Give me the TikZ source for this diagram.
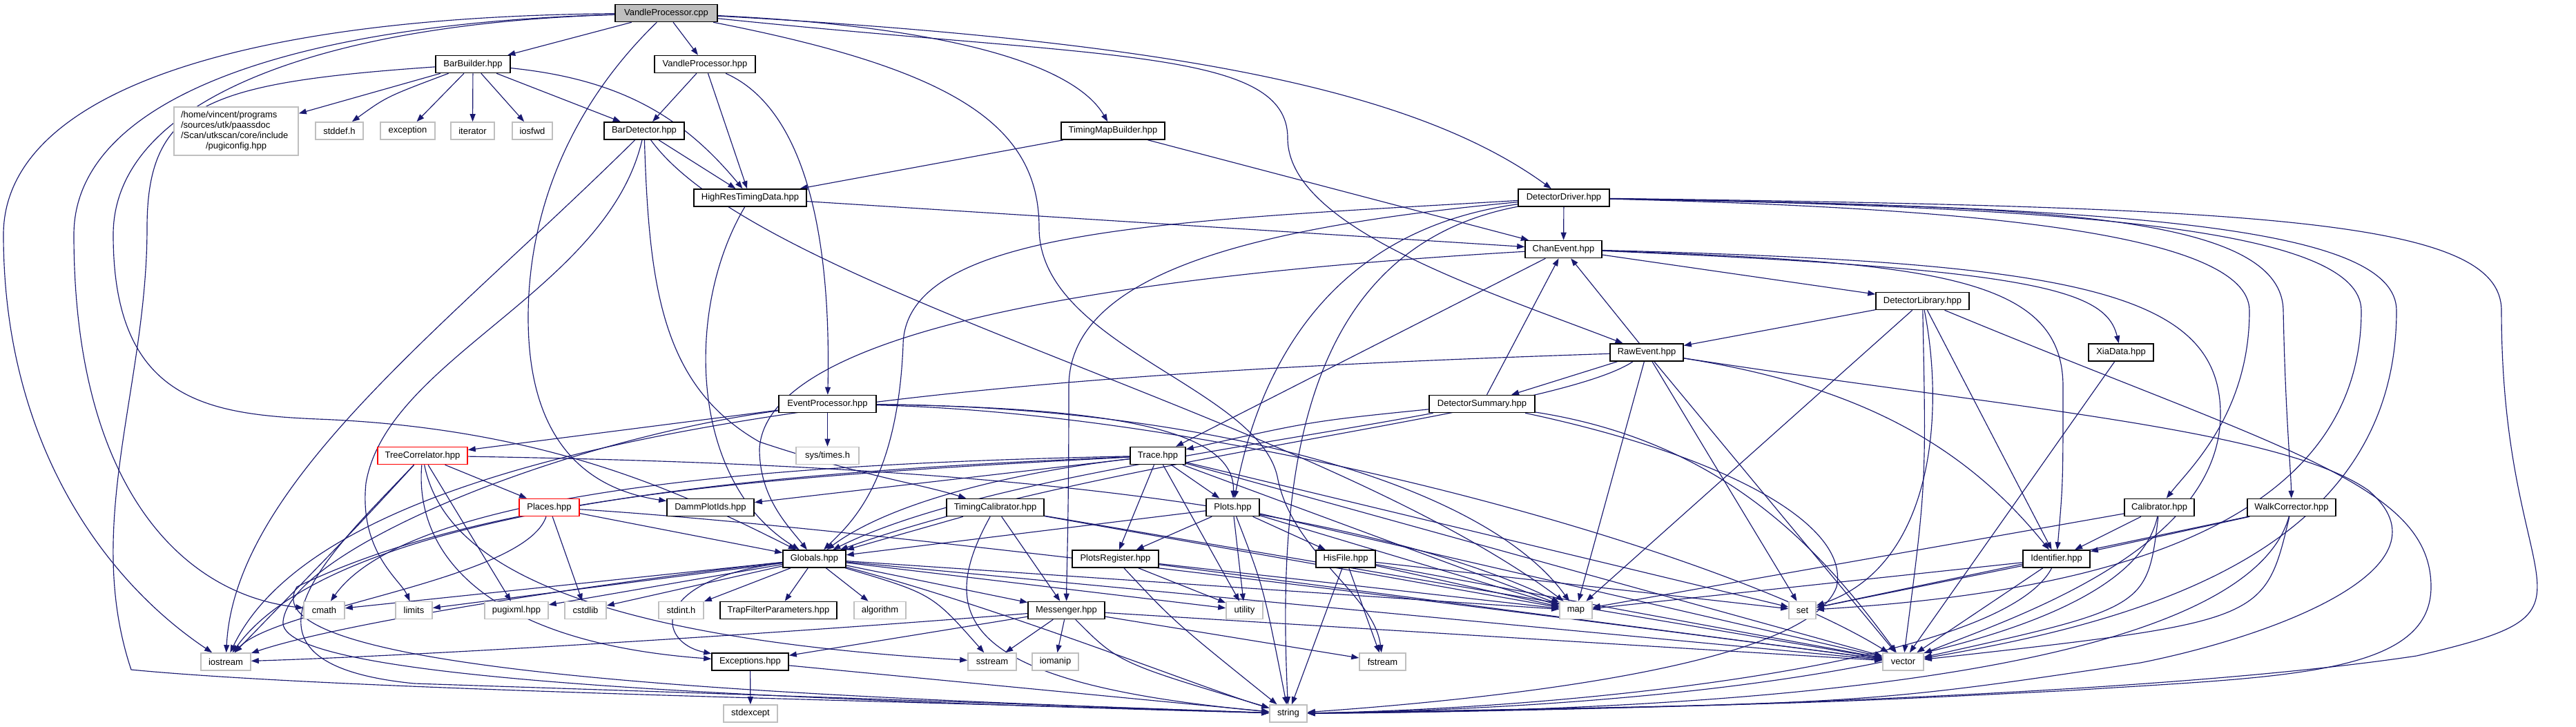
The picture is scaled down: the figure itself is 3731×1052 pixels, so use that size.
\documentclass[tikz,border=0pt]{standalone}
\usepackage{fontspec}
\setmainfont{Liberation Sans}
\usetikzlibrary{arrows.meta}
\pgfdeclarelayer{bg}
\pgfsetlayers{bg,main}
\definecolor{edgecol}{HTML}{191970}
\definecolor{extgray}{HTML}{BFBFBF}
\tikzset{
  nd/.style={draw=black, line width=1.6pt, fill=white, minimum height=25pt, inner sep=0pt},
  ext/.style={nd, draw=extgray},
  rednd/.style={nd, draw=red},
  rootnd/.style={nd, fill=extgray},
  edg/.style={draw=edgecol, line width=1.15pt, -{Triangle[length=11pt,width=8pt]}}
}
\begin{document}
\begin{tikzpicture}[x=1pt,y=-1pt,font=\fontsize{13}{15}\selectfont]
\useasboundingbox (0,0) rectangle (3731,1052);
% nodes
\node[rootnd, minimum width=148pt] (vpcpp) at (965,19) {VandleProcessor.cpp};
\node[nd, minimum width=108pt] (barb) at (685,93) {BarBuilder.hpp};
\node[nd, minimum width=146pt] (vphpp) at (1021,93) {VandleProcessor.hpp};
\node[ext, minimum width=180pt, minimum height=70pt, text width=160pt, align=left] (pugicfg) at (342,190) {/home/vincent/programs\\/sources/utk/paassdoc\\/Scan/utkscan/core/include\\\hspace*{36pt}/pugiconfig.hpp};
\node[ext, minimum width=69pt] (stddef) at (491.5,189.5) {stddef.h};
\node[ext, minimum width=79pt] (exception) at (590.5,189.5) {exception};
\node[ext, minimum width=63pt] (iterator) at (684.5,189.5) {iterator};
\node[ext, minimum width=58pt] (iosfwd) at (771,189.5) {iosfwd};
\node[nd, minimum width=116pt] (bardet) at (933,189.5) {BarDetector.hpp};
\node[nd, minimum width=150pt] (tmb) at (1612,189.5) {TimingMapBuilder.hpp};
\node[nd, minimum width=163pt] (hrtd) at (1086.5,286.5) {HighResTimingData.hpp};
\node[nd, minimum width=132pt] (ddrv) at (2265,286.5) {DetectorDriver.hpp};
\node[nd, minimum width=111pt] (chan) at (2264.5,361) {ChanEvent.hpp};
\node[nd, minimum width=135pt] (dlib) at (2784.5,436) {DetectorLibrary.hpp};
\node[nd, minimum width=94pt] (xia) at (3072,510.5) {XiaData.hpp};
\node[nd, minimum width=106pt] (raw) at (2385,510.5) {RawEvent.hpp};
\node[nd, minimum width=153pt] (dsum) at (2146.5,585) {DetectorSummary.hpp};
\node[nd, minimum width=141pt] (evp) at (1198.5,585) {EventProcessor.hpp};
\node[ext, minimum width=91pt] (systimes) at (1198.5,660) {sys/times.h};
\node[nd, minimum width=80pt] (trace) at (1677,660) {Trace.hpp};
\node[rednd, minimum width=130pt] (treec) at (612,660) {TreeCorrelator.hpp};
\node[rednd, minimum width=87pt] (places) at (795.5,735) {Places.hpp};
\node[nd, minimum width=126pt] (damm) at (1029,735) {DammPlotIds.hpp};
\node[nd, minimum width=141pt] (tcal) at (1441.5,735) {TimingCalibrator.hpp};
\node[nd, minimum width=77pt] (plots) at (1785.5,735) {Plots.hpp};
\node[nd, minimum width=101pt] (calib) at (3127.5,735) {Calibrator.hpp};
\node[nd, minimum width=128pt] (walk) at (3319,735) {WalkCorrector.hpp};
\node[nd, minimum width=91pt] (globals) at (1179.5,809.5) {Globals.hpp};
\node[nd, minimum width=125pt] (preg) at (1615.5,809.5) {PlotsRegister.hpp};
\node[nd, minimum width=86pt] (hisfile) at (1949,809.5) {HisFile.hpp};
\node[nd, minimum width=97pt] (ident) at (2978.5,809.5) {Identifier.hpp};
\node[ext, minimum width=59pt] (cmath) at (469.5,884) {cmath};
\node[ext, minimum width=53pt] (limits) at (599.5,884) {limits};
\node[ext, minimum width=92pt] (pugixml) at (748,884) {pugixml.hpp};
\node[ext, minimum width=60pt] (cstdlib) at (848,884) {cstdlib};
\node[ext, minimum width=65pt] (stdint) at (986.5,884) {stdint.h};
\node[nd, minimum width=169pt] (trapf) at (1127.5,884) {TrapFilterParameters.hpp};
\node[ext, minimum width=75pt] (algorithm) at (1274.5,884) {algorithm};
\node[nd, minimum width=111pt] (messenger) at (1544.5,884) {Messenger.hpp};
\node[ext, minimum width=53pt] (utility) at (1802.5,884) {utility};
\node[ext, minimum width=47pt] (nmap) at (2282.5,884) {map};
\node[ext, minimum width=39pt] (nset) at (2610.5,884) {set};
\node[ext, minimum width=72pt] (iostream) at (327,958.5) {iostream};
\node[nd, minimum width=111pt] (exceptions) at (1086.5,958.5) {Exceptions.hpp};
\node[ext, minimum width=70pt] (sstream) at (1437,958.5) {sstream};
\node[ext, minimum width=67pt] (iomanip) at (1528.5,958.5) {iomanip};
\node[ext, minimum width=67pt] (fstream) at (2002.5,958.5) {fstream};
\node[ext, minimum width=59pt] (nvector) at (2756.5,958.5) {vector};
\node[ext, minimum width=78pt] (stdexcept) at (1087,1033.5) {stdexcept};
\node[ext, minimum width=54pt] (nstring) at (1866,1033.5) {string};

\begin{pgfonlayer}{bg}
\fill[white] (0,0) rectangle (3731,1052);
% VandleProcessor.cpp
\draw[edg] (vpcpp) -- (barb);
\draw[edg] (vpcpp) -- (vphpp);
\draw[edg] (vpcpp) .. controls (1400,40) and (1560,100) .. (tmb);
\draw[edg] (vpcpp) .. controls (1700,60) and (2050,130) .. (ddrv);
\draw[edg] (vpcpp) .. controls (1600,85) and (1865,70) .. (1865,200) .. controls (1865,330) and (2150,420) .. (raw);
\draw[edg] (vpcpp) .. controls (1380,100) and (1505,180) .. (1505,330) .. controls (1505,500) and (1820,560) .. (1850,690) .. controls (1870,800) and (1990,860) .. (fstream);
\draw[edg] (vpcpp) .. controls (830,150) and (765,300) .. (765,460) .. controls (765,650) and (860,710) .. (damm);
\draw[edg] (vpcpp) .. controls (450,35) and (164,150) .. (164,340) .. controls (164,580) and (300,600) .. (460,607) .. controls (800,620) and (1000,720) .. (globals);
\draw[edg] (vpcpp) .. controls (300,25) and (5,150) .. (5,340) .. controls (5,640) and (150,840) .. (iostream);
\draw[edg] (vpcpp) .. controls (400,35) and (107,150) .. (107,340) .. controls (107,700) and (260,860) .. (cmath);
% BarBuilder
\draw[edg] (barb) -- (pugicfg);
\draw[edg] (barb) .. controls (560,140) .. (stddef);
\draw[edg] (barb) -- (exception);
\draw[edg] (barb) -- (iterator);
\draw[edg] (barb) -- (iosfwd);
\draw[edg] (barb) -- (bardet);
\draw[edg] (barb) .. controls (900,115) and (990,170) .. (hrtd);
\draw[edg] (barb) .. controls (300,120) and (213,150) .. (213,330) .. controls (213,560) and (120,760) .. (190,970) .. controls (500,1000) and (1300,1015) .. (nstring);
% VandleProcessor.hpp
\draw[edg] (vphpp) -- (bardet);
\draw[edg] (vphpp) -- (hrtd);
\draw[edg] (vphpp) .. controls (1150,150) and (1205,300) .. (evp);
% BarDetector
\draw[edg] (bardet) -- (hrtd);
\draw[edg] (bardet) .. controls (650,470) and (340,700) .. (iostream);
\draw[edg] (bardet) .. controls (880,420) and (560,520) .. (530,700) .. controls (520,800) and (580,840) .. (limits);
\draw[edg] (bardet) .. controls (940,420) and (960,560) .. (1100,640) .. controls (1250,690) and (1330,700) .. (tcal);
\draw[edg] (bardet) .. controls (1100,420) and (1900,600) .. (nmap);
% HighResTimingData
\draw[edg] (hrtd) -- (chan);
\draw[edg] (hrtd) .. controls (990,450) and (1000,700) .. (globals);
% TimingMapBuilder
\draw[edg] (tmb) -- (hrtd);
\draw[edg] (tmb) -- (chan);
% DetectorDriver
\draw[edg] (ddrv) -- (chan);
\draw[edg] (ddrv) .. controls (1700,320) and (1310,330) .. (1308,500) .. controls (1300,700) and (1230,760) .. (globals);
\draw[edg] (ddrv) .. controls (1800,330) and (1548,400) .. (1548,560) .. controls (1548,760) and (1545,820) .. (messenger);
\draw[edg] (ddrv) .. controls (1950,330) and (1830,500) .. (plots);
\draw[edg] (ddrv) .. controls (1880,360) and (1850,700) .. (nstring);
\draw[edg] (ddrv) .. controls (2800,300) and (3258,330) .. (3258,450) .. controls (3258,600) and (3170,680) .. (calib);
\draw[edg] (ddrv) .. controls (2900,300) and (3305,300) .. (3307,450) .. controls (3310,600) and (3318,680) .. (walk);
\draw[edg] (ddrv) .. controls (3000,300) and (3420,330) .. (3420,450) .. controls (3420,780) and (3000,860) .. (nset);
\draw[edg] (ddrv) .. controls (3100,300) and (3471,330) .. (3471,450) .. controls (3471,800) and (3100,900) .. (nvector);
\draw[edg] (ddrv) .. controls (3300,300) and (3623,320) .. (3623,450) .. controls (3623,880) and (3800,880) .. (3500,950) .. controls (3100,1010) and (2300,1030) .. (nstring);
% ChanEvent
\draw[edg] (chan) -- (dlib);
\draw[edg] (chan) -- (trace);
\draw[edg] (chan) .. controls (2950,390) and (3050,420) .. (xia);
\draw[edg] (chan) .. controls (1600,400) and (1110,480) .. (1100,650) .. controls (1100,720) and (1140,760) .. (globals);
\draw[edg] (chan) .. controls (2800,380) and (2988,400) .. (2988,560) .. controls (2988,700) .. (ident);
\draw[edg] (chan) .. controls (3000,380) and (3216,420) .. (3216,600) .. controls (3216,800) and (2900,900) .. (nvector);
% DetectorLibrary
\draw[edg] (dlib) -- (raw);
\draw[edg] (dlib) -- (ident);
\draw[edg] (dlib) -- (nmap);
\draw[edg] (dlib) .. controls (2790,700) .. (nvector);
\draw[edg] (dlib) .. controls (2817,600) and (2800,820) .. (nset);
\draw[edg] (dlib) .. controls (3300,650) and (3521,700) .. (3521,850) .. controls (3521,980) and (3300,980) .. (3000,1000) .. controls (2600,1020) .. (nstring);
% RawEvent
\draw[edg] (raw) -- (chan);
\draw[edg] (raw) -- (dsum);
\draw[edg] (raw) .. controls (1500,540) and (500,600) .. (iostream);
\draw[edg] (raw) .. controls (2250,600) and (1600,660) .. (globals);
\draw[edg] (raw) -- (nmap);
\draw[edg] (raw) -- (nset);
\draw[edg] (raw) -- (nvector);
\draw[edg] (raw) .. controls (2700,560) and (2850,650) .. (ident);
\draw[edg] (raw) .. controls (2900,590) and (3300,620) .. (3430,710) .. controls (3560,820) and (3300,920) .. (3100,960) .. controls (2700,1020) .. (nstring);
% DetectorSummary
\draw[edg] (dsum) -- (chan);
\draw[edg] (dsum) .. controls (1900,610) .. (trace);
\draw[edg] (dsum) .. controls (1800,650) and (1400,700) .. (globals);
\draw[edg] (dsum) .. controls (2500,640) and (2640,800) .. (nvector);
\draw[edg] (dsum) .. controls (2500,660) and (2680,760) .. (2660,850) .. controls (2620,960) and (2200,1010) .. (nstring);
% EventProcessor
\draw[edg] (evp) -- (systimes);
\draw[edg] (evp) -- (treec);
\draw[edg] (evp) .. controls (800,640) and (420,800) .. (410,900) .. controls (400,980) and (1000,1010) .. (nstring);
\draw[edg] (evp) .. controls (1600,590) and (1790,620) .. (plots);
\draw[edg] (evp) .. controls (1750,590) and (2150,700) .. (nmap);
\draw[edg] (evp) .. controls (1800,600) and (2500,800) .. (nvector);
% Trace
\draw[edg] (trace) -- (plots);
\draw[edg] (trace) -- (preg);
\draw[edg] (trace) -- (damm);
\draw[edg] (trace) .. controls (1500,680) and (1300,720) .. (globals);
\draw[edg] (trace) .. controls (1200,680) and (500,720) .. (iostream);
\draw[edg] (trace) .. controls (1200,670) and (600,700) .. (cmath);
\draw[edg] (trace) .. controls (1100,690) and (700,720) .. (430,850) .. controls (350,980) and (1200,1010) .. (nstring);
\draw[edg] (trace) -- (nmap);
\draw[edg] (trace) -- (nset);
\draw[edg] (trace) -- (nvector);
\draw[edg] (trace) -- (utility);
% TreeCorrelator
\draw[edg] (treec) -- (places);
\draw[edg] (treec) -- (pugixml);
\draw[edg] (treec) .. controls (520,760) .. (iostream);
\draw[edg] (treec) .. controls (480,800) and (300,960) .. (600,990) .. controls (1200,1010) .. (nstring);
\draw[edg] (treec) .. controls (600,800) and (700,930) .. (exceptions);
\draw[edg] (treec) .. controls (640,800) and (800,920) .. (sstream);
\draw[edg] (treec) .. controls (1200,670) and (1900,700) .. (nmap);
% Places
\draw[edg] (places) .. controls (760,840) and (400,880) .. (iostream);
\draw[edg] (places) -- (cstdlib);
\draw[edg] (places) -- (globals);
\draw[edg] (places) .. controls (1200,760) and (2000,860) .. (nvector);
% Globals
\draw[edg] (globals) -- (cmath);
\draw[edg] (globals) -- (limits);
\draw[edg] (globals) -- (pugixml);
\draw[edg] (globals) -- (cstdlib);
\draw[edg] (globals) .. controls (900,840) and (500,900) .. (iostream);
\draw[edg] (globals) -- (stdint);
\draw[edg] (globals) -- (trapf);
\draw[edg] (globals) -- (algorithm);
\draw[edg] (globals) -- (messenger);
\draw[edg] (globals) .. controls (1350,860) .. (sstream);
\draw[edg] (globals) .. controls (940,840) and (950,930) .. (exceptions);
\draw[edg] (globals) -- (utility);
\draw[edg] (globals) -- (nmap);
\draw[edg] (globals) -- (nvector);
\draw[edg] (globals) .. controls (1450,880) and (1750,1000) .. (nstring);
% TimingCalibrator
\draw[edg] (tcal) -- (globals);
\draw[edg] (tcal) -- (messenger);
\draw[edg] (tcal) .. controls (1350,900) and (1400,990) .. (nstring);
\draw[edg] (tcal) -- (nmap);
\draw[edg] (tcal) -- (nvector);
% Plots
\draw[edg] (plots) -- (globals);
\draw[edg] (plots) -- (preg);
\draw[edg] (plots) -- (hisfile);
\draw[edg] (plots) .. controls (1830,850) .. (nstring);
\draw[edg] (plots) -- (nmap);
\draw[edg] (plots) -- (nvector);
\draw[edg] (plots) -- (utility);
% PlotsRegister
\draw[edg] (preg) -- (utility);
\draw[edg] (preg) .. controls (1700,900) .. (nstring);
\draw[edg] (preg) -- (nmap);
\draw[edg] (preg) -- (nvector);
% HisFile
\draw[edg] (hisfile) -- (nmap);
\draw[edg] (hisfile) -- (nset);
\draw[edg] (hisfile) -- (nvector);
\draw[edg] (hisfile) -- (fstream);
\draw[edg] (hisfile) -- (nstring);
% Messenger
\draw[edg] (messenger) .. controls (1100,920) and (600,950) .. (iostream);
\draw[edg] (messenger) -- (sstream);
\draw[edg] (messenger) -- (iomanip);
\draw[edg] (messenger) -- (exceptions);
\draw[edg] (messenger) .. controls (1620,960) .. (nstring);
\draw[edg] (messenger) -- (nvector);
\draw[edg] (messenger) -- (fstream);
% Exceptions
\draw[edg] (exceptions) -- (stdexcept);
\draw[edg] (exceptions) -- (nstring);
% Calibrator
\draw[edg] (calib) -- (ident);
\draw[edg] (calib) -- (nmap);
\draw[edg] (calib) .. controls (3110,880) .. (nvector);
\draw[edg] (calib) .. controls (3080,960) and (2400,1025) .. (nstring);
% WalkCorrector
\draw[edg] (walk) -- (ident);
\draw[edg] (walk) -- (nset);
\draw[edg] (walk) .. controls (3280,900) .. (nvector);
\draw[edg] (walk) .. controls (3250,980) and (2500,1030) .. (nstring);
% Identifier
\draw[edg] (ident) -- (nmap);
\draw[edg] (ident) -- (nset);
\draw[edg] (ident) -- (nvector);
\draw[edg] (ident) .. controls (2900,960) and (2300,1025) .. (nstring);
% XiaData
\draw[edg] (xia) -- (nvector);
\end{pgfonlayer}
\end{tikzpicture}
\end{document}
